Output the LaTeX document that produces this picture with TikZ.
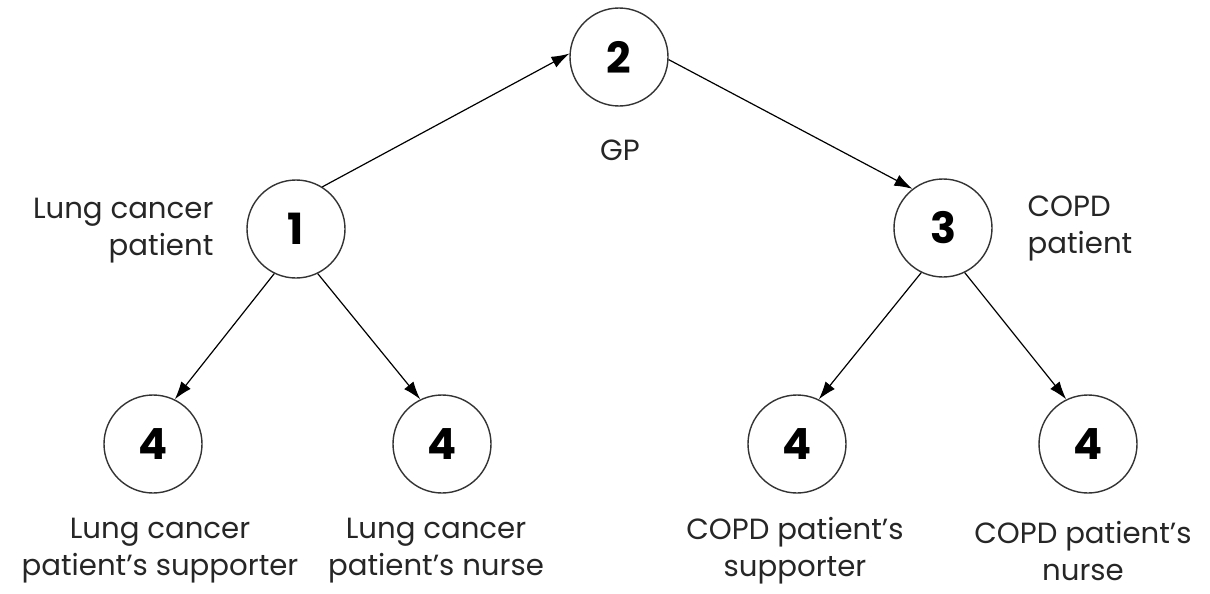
\documentclass[tikz,border=0pt]{standalone}
\usepackage{fontspec}
\setmainfont{Poppins}
\usetikzlibrary{arrows.meta}
\begin{document}
\begin{tikzpicture}[
		x=0.5pt, y=-0.5pt,
		person/.style={circle, draw=black!80, line width=0.7pt, minimum size=49pt, inner sep=0pt, font=\fontsize{21.5}{21.5}\selectfont\bfseries},
		role/.style={font=\fontsize{14.6}{18.5}\selectfont, text=black!85, inner sep=0pt},
		>={Latex[length=9pt,width=6pt]}, line width=0.6pt
	]
		\useasboundingbox (0,0) rectangle (1210,594);
		
		% Root
		\node[person] (gp) at (619,57) {2};
		
		% Level 1
		\node[person] (lcp) at (296,229) {1};
		\node[person] (copd) at (943,228) {3};
		
		% Level 2
		\node[person] (lcs) at (153,444) {4};
		\node[person] (lcn) at (442,444) {4};
		\node[person] (cs) at (797,444) {4};
		\node[person] (cn) at (1088,444) {4};
		
		% Edges
		\draw[->] (lcp.58) -- (gp.176);
		\draw[->] (gp.-3) -- (copd.128);
		\draw[->] (lcp.244) -- (lcs.64);
		\draw[->] (lcp.296) -- (lcn.116);
		\draw[->] (copd.244) -- (cs.64);
		\draw[->] (copd.296) -- (cn.116);
		
		% Labels
		\node[role] (gpl) at (620,150) {GP};
		\node[role, anchor=east, align=right] (lcpl) at (214,231) {Lung cancer\\patient};
		\node[role, anchor=west, align=left] (copdl) at (1027,228) {COPD\\patient};
		\node[role, align=center] (lcsl) at (160,551) {Lung cancer\\patient’s supporter};
		\node[role, align=center] (lcnl) at (436,551) {Lung cancer\\patient’s nurse};
		\node[role, align=center] (csl) at (795,551) {COPD patient’s\\supporter};
		\node[role, align=center] (cnl) at (1083,551) {COPD patient’s\\nurse};
	\end{tikzpicture}
\end{document}
